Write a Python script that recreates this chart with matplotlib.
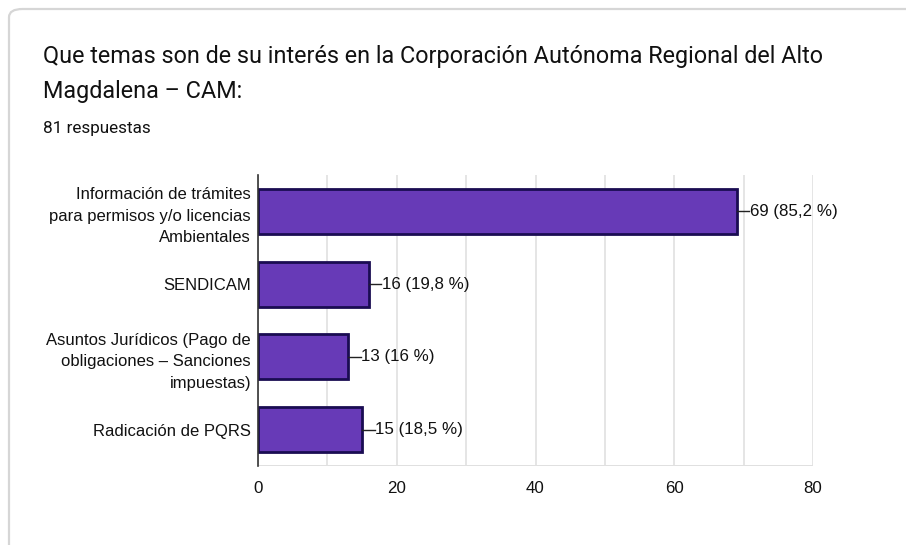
import matplotlib.pyplot as plt
from matplotlib.patches import FancyBboxPatch

categorias = [
    "Información de trámites\npara permisos y/o licencias\nAmbientales",
    "SENDICAM",
    "Asuntos Jurídicos (Pago de\nobligaciones – Sanciones\nimpuestas)",
    "Radicación de PQRS",
]
respuestas = [69, 16, 13, 15]
porcentajes = ["85,2 %", "19,8 %", "16 %", "18,5 %"]
ticks_x = [0, 20, 40, 60, 80]

titulo_1 = "Que temas son de su interés en la Corporación Autónoma Regional del Alto"
titulo_2 = "Magdalena – CAM:"
subtitulo = "81 respuestas"

W, H = 906, 545
fig = plt.figure(figsize=(W / 100, H / 100), dpi=100)

# borde de la tarjeta
card = FancyBboxPatch((9 / W, -0.1), 1.2, 1 - 9 / H + 0.1,
                      boxstyle="round,pad=0,rounding_size=0.015",
                      transform=fig.transFigure, facecolor="none",
                      edgecolor="#d6d6d6", linewidth=1.6, zorder=-1)
fig.patches.append(card)

fig.text(43 / W, 1 - 56 / H, titulo_1, fontsize=16.8, family="Roboto",
         color="#111111", va="center")
fig.text(43 / W, 1 - 91 / H, titulo_2, fontsize=16.8, family="Roboto",
         color="#111111", va="center")
fig.text(43 / W, 1 - 129 / H, subtitulo, fontsize=12.3, family="Roboto",
         color="#111111", va="center")

ax = fig.add_axes([258 / W, 1 - 466 / H, 555 / W, 291 / H])
y = list(range(len(categorias)))
ax.barh(y, respuestas, height=0.62, color="#673ab7",
        edgecolor="#1a0c52", linewidth=2.0, zorder=3)

for yi, v, p in zip(y, respuestas, porcentajes):
    ax.plot([v, v + 1.8], [yi, yi], color="#222222", lw=1.0, zorder=3,
            clip_on=False)
    ax.text(v + 1.85, yi, f"{v} ({p})", va="center", ha="left",
            fontsize=12.2, family="Liberation Sans", color="#111111")

ax.set_xlim(0, 80)
ax.set_ylim(len(categorias) - 0.5, -0.5)
ax.set_yticks(y)
ax.set_yticklabels(categorias, fontsize=12, family="Liberation Sans",
                   color="#111111", linespacing=1.55)
ax.set_xticks(ticks_x)
ax.set_xticklabels([str(t) for t in ticks_x], fontsize=12.2,
                   family="Liberation Sans", color="#111111")
ax.set_xticks(range(0, 81, 10), minor=True)
ax.grid(axis="x", which="both", color="#e0e0e0", lw=1.2, zorder=0)
ax.tick_params(axis="both", which="both", length=0, pad=5)
ax.tick_params(axis="x", pad=11)

for s in ["top", "right", "bottom"]:
    ax.spines[s].set_visible(False)
ax.spines["left"].set_color("#333333")
ax.spines["left"].set_linewidth(1.2)
ax.spines["left"].set_zorder(4)
ax.axhline(len(categorias) - 0.5, color="#e0e0e0", lw=1.4, zorder=0)

fig.savefig("out.png", dpi=100)
